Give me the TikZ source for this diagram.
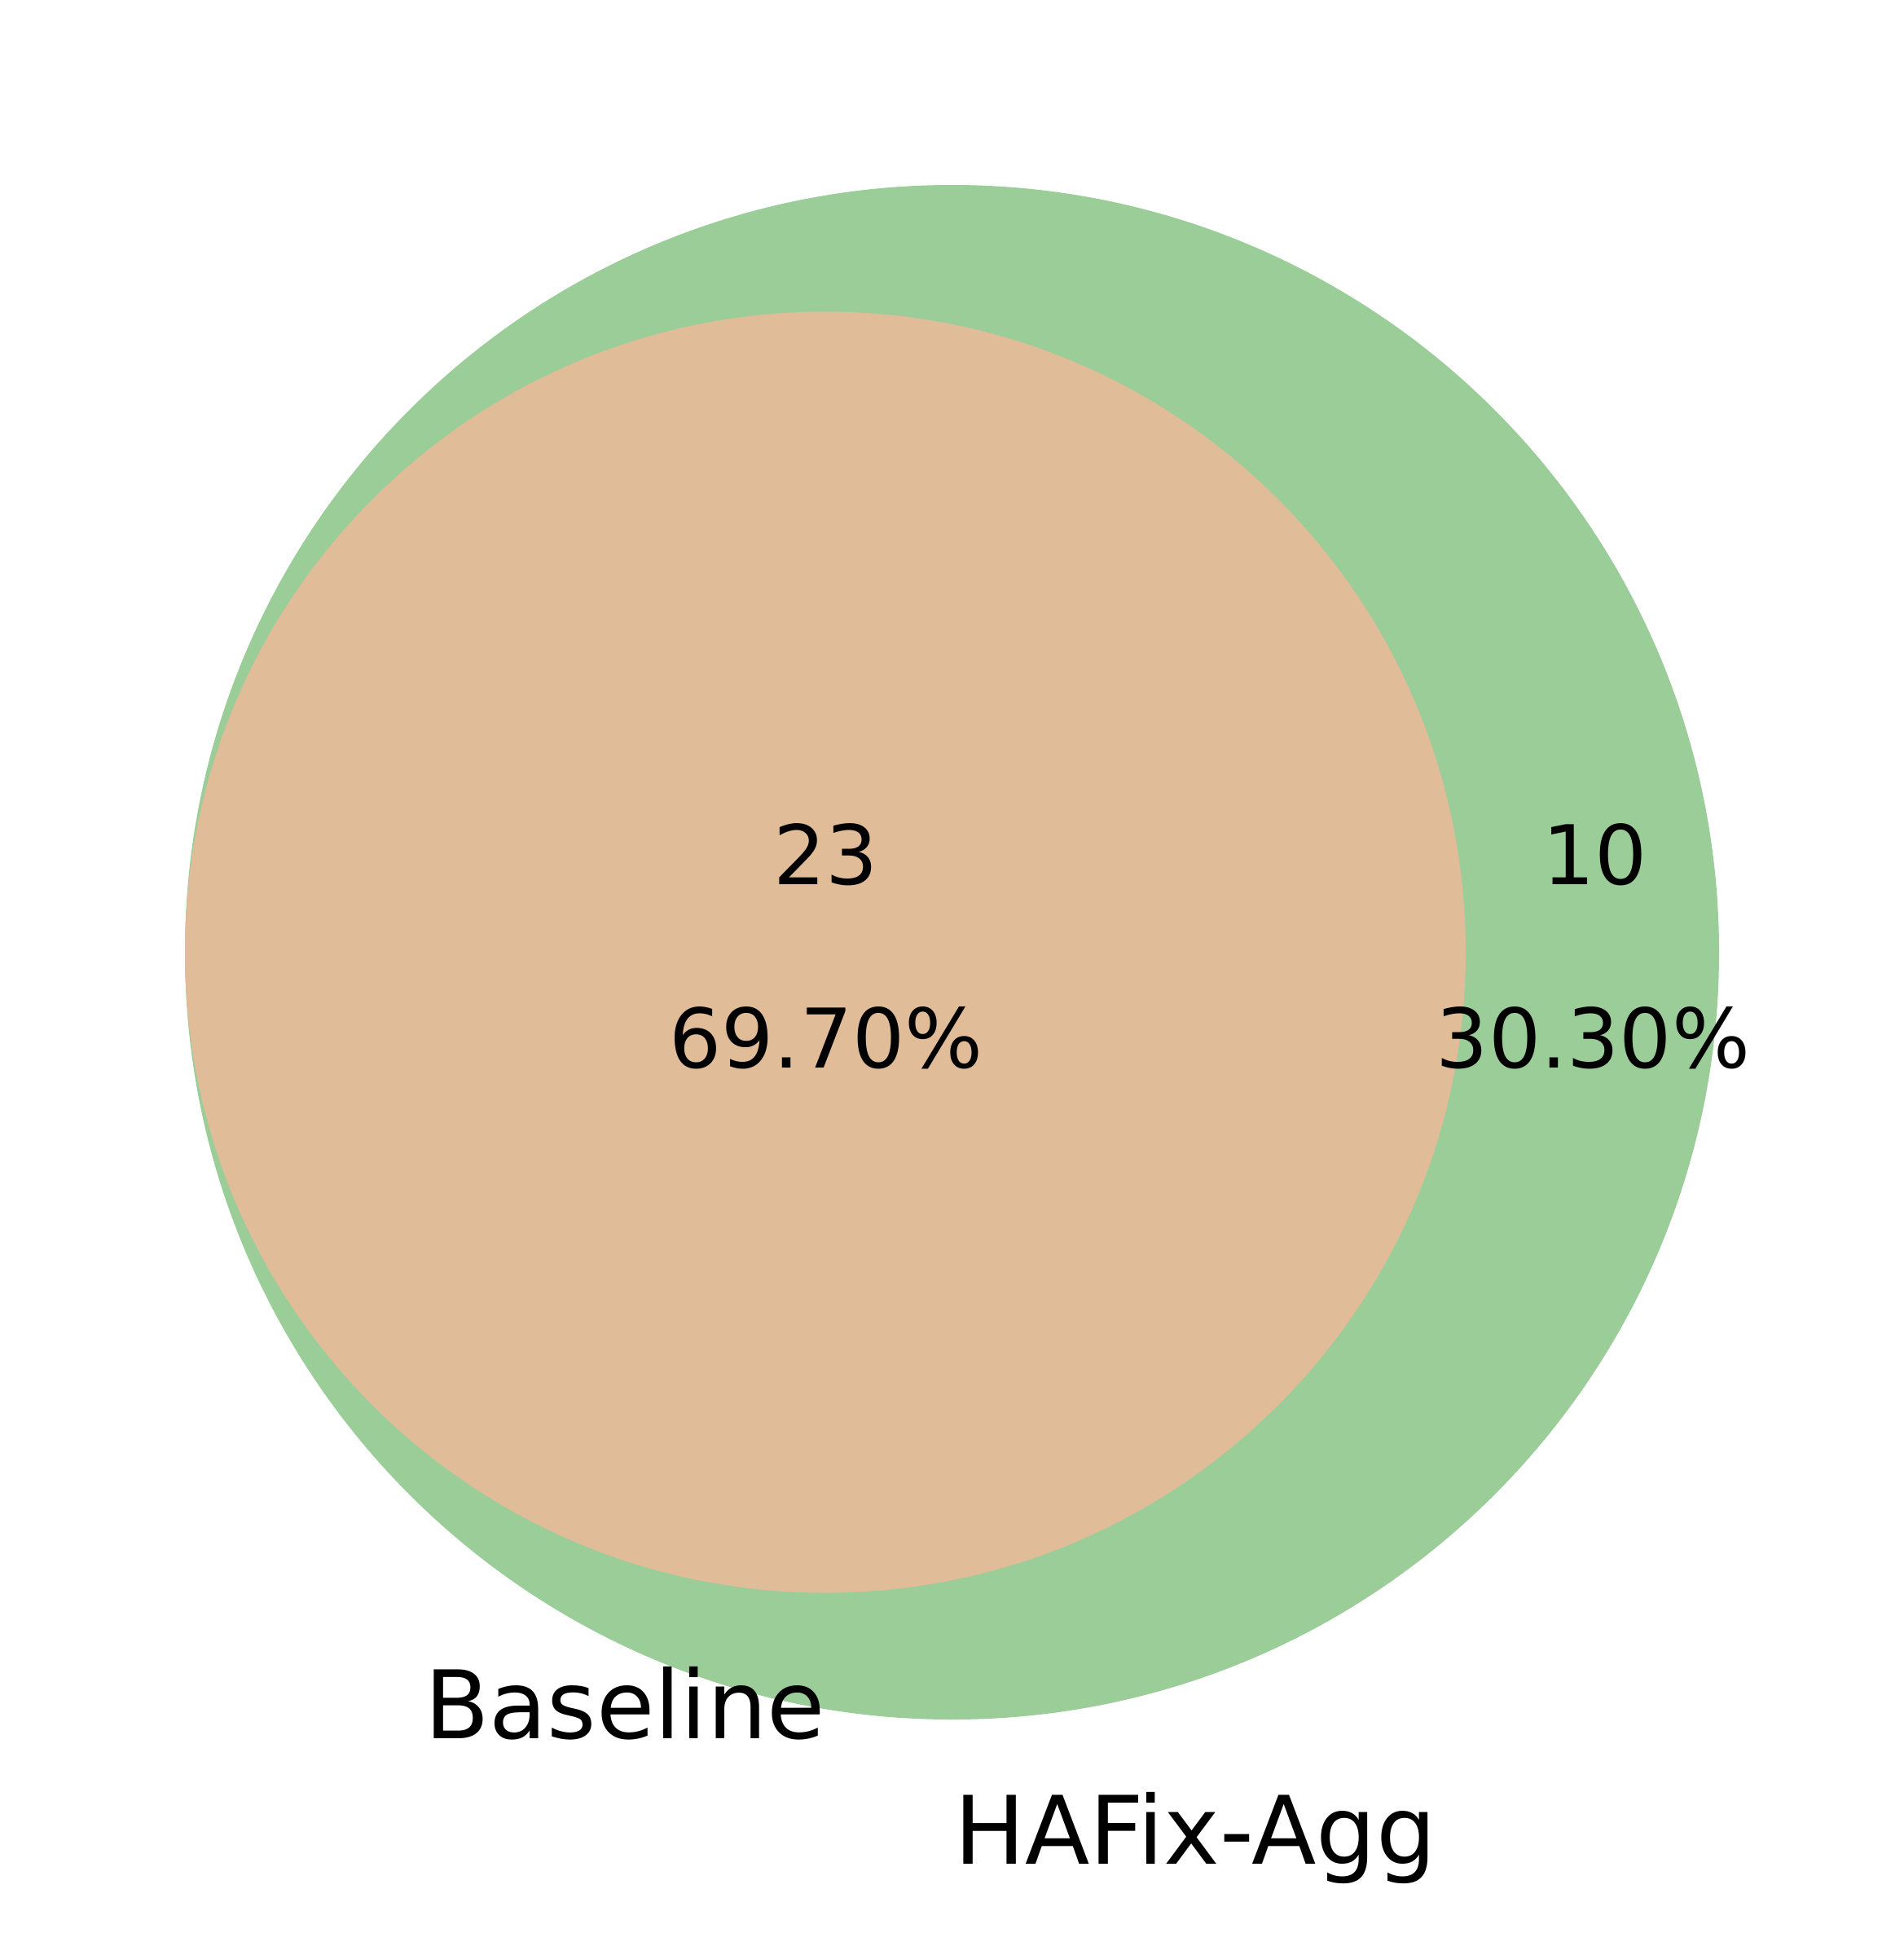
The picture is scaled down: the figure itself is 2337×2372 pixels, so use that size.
\documentclass[tikz,border=0pt]{standalone}
\usepackage{fontspec}
\setmainfont{DejaVu Sans}
\definecolor{vgreen}{RGB}{155,205,153}
\definecolor{vorange}{RGB}{224,188,152}
\begin{document}
\begin{tikzpicture}[x=1pt,y=-1pt,
  numtext/.style={inner sep=0pt,anchor=base,font=\fontsize{101}{121}\selectfont},
  labtext/.style={inner sep=0pt,anchor=base,font=\fontsize{116}{139}\selectfont}]
\useasboundingbox (0,0) rectangle (2337,2372);
\fill[white] (0,0) rectangle (2337,2372);
\fill[vgreen] (1168.5,1168.5) circle[radius=941.5];
\fill[vorange] (1013,1168.5) circle[radius=786];
\node[numtext] (n23) at (1013.5,1085) {23};
\node[numtext] (p23) at (1014,1310) {69.70\%};
\node[numtext] (n10) at (1958,1085) {10};
\node[numtext] (p10) at (1955.5,1310) {30.30\%};
\node[labtext] (lA) at (767,2133) {Baseline};
\node[labtext] (lB) at (1467,2287) {HAFix-Agg};
\end{tikzpicture}
\end{document}
